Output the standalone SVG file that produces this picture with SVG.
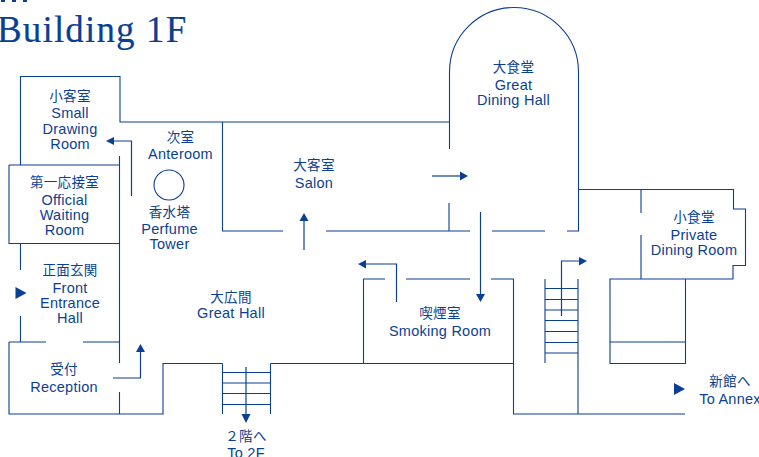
<svg xmlns="http://www.w3.org/2000/svg" width="759" height="457" viewBox="0 0 759 457">
<style>
text{font-family:"Liberation Sans","Noto Sans CJK JP",sans-serif;font-size:14.5px;letter-spacing:.25px;fill:#0b3f94;text-anchor:middle}
.jp{font-family:"Noto Sans CJK JP",sans-serif;font-size:13.5px;letter-spacing:.3px}
.title{font-family:"Liberation Serif",serif;font-size:37px;text-anchor:start;letter-spacing:1.15px;stroke:#0b3f94;stroke-width:.15}
.w{fill:none;stroke:#0b3f94;stroke-width:1.1}
.a{fill:none;stroke:#0b3f94;stroke-width:1.2}
.h{fill:#0b3f94}
</style>
<rect width="759" height="457" fill="#fff"/>
<path class="h" d="M1 0H5V2H1ZM12 0H16V2H12ZM23 0H27V2H23Z"/>
<text class="title" x="-3" y="42">Building 1F</text>
<g id="walls" class="w">
<path d="M20.500 165V76.500H120V122H449M222.500 122V231H283M326 231H470M492 231H545M567 231H578.500V72A64.500 64.500 0 0 0 449.500 72V149M449 203V231"/>
<path d="M9 165H119.500M9 165V243.500H119.500M119.500 156V363M119.500 392V414M20.500 243.500V270M20.500 316V342M9 342H46M83 342H119.500M9 342V414H163V363.500H222.500M270.500 363.500H513.500M222.500 363.500V414M270.500 363.500V414"/>
<path d="M222.500 372.500H270.500M222.500 383H270.500M222.500 393.500H270.500M222.500 404.500H270.500"/>
<path d="M363.500 363.500V279H385M406 279H470M491 279H513.500V414H685M545 279V363M578 279V414"/>
<path d="M545 288.500H578M545 299.500H578M545 310H578M545 320.500H578M545 331.500H578M545 342.500H578M545 353H578"/>
<path d="M578 189.500H733.500V209H745.500V265.500H733V279H610V363.500H685.500V279M641 189.500V213M641 235V279M610 342H685.500"/>
<circle cx="169" cy="185" r="15"/>
</g>
<g id="connectors">
<g class="a">
<path d="M131.500 196V141H113"/>
<path d="M113 378H140.500V351"/>
<path d="M246 367V416"/>
<path d="M304 250V220"/>
<path d="M432 176H461"/>
<path d="M480.500 212V295"/>
<path d="M396.500 302V264H366"/>
<path d="M561.500 316V261H579"/>
</g>
<path class="h" d="M106 141L114 137V145Z"/>
<path class="h" d="M140.500 344L145 352H136Z"/>
<path class="h" d="M246 423L241.500 414H250.500Z"/>
<path class="h" d="M304 213L308.500 221H299.500Z"/>
<path class="h" d="M468 176L460 171.500V180.500Z"/>
<path class="h" d="M480.500 302L476 294H485Z"/>
<path class="h" d="M358 264L366 260V268.500Z"/>
<path class="h" d="M587 261L579 257V265.500Z"/>
<path class="h" d="M15.500 287L26.500 293L15.500 299Z"/>
<path class="h" d="M674 383L685 389L674 395Z"/>
</g>
<g id="n-small-drawing"><text class="jp" x="70" y="101">小客室</text><text x="70" y="118">Small</text><text x="70" y="133.500">Drawing</text><text x="70" y="148.500">Room</text></g>
<g id="n-official"><text class="jp" x="64.500" y="187">第一応接室</text><text x="64.500" y="205">Official</text><text x="64.500" y="220">Waiting</text><text x="64.500" y="235">Room</text></g>
<g id="n-anteroom"><text class="jp" x="180.500" y="142">次室</text><text x="180.500" y="159">Anteroom</text></g>
<g id="n-perfume"><text class="jp" x="169.500" y="217">香水塔</text><text x="169.500" y="234">Perfume</text><text x="169.500" y="249">Tower</text></g>
<g id="n-front"><text class="jp" x="70" y="275">正面玄関</text><text x="70" y="293">Front</text><text x="70" y="308">Entrance</text><text x="70" y="323">Hall</text></g>
<g id="n-reception"><text class="jp" x="64" y="374">受付</text><text x="64" y="392">Reception</text></g>
<g id="n-great-hall"><text class="jp" x="231" y="302">大広間</text><text x="231" y="318">Great Hall</text></g>
<g id="n-to2f"><text class="jp" x="246" y="441">２階へ</text><text x="246" y="458">To 2F</text></g>
<g id="n-salon"><text class="jp" x="314" y="170">大客室</text><text x="314" y="187.500">Salon</text></g>
<g id="n-dining"><text class="jp" x="513.500" y="72">大食堂</text><text x="513.500" y="89.500">Great</text><text x="513.500" y="104.500">Dining Hall</text></g>
<g id="n-smoking"><text class="jp" x="440" y="318">喫煙室</text><text x="440" y="336">Smoking Room</text></g>
<g id="n-private"><text class="jp" x="694" y="222">小食堂</text><text x="694" y="239.500">Private</text><text x="694" y="254.500">Dining Room</text></g>
<g id="n-annex"><text class="jp" x="730" y="386">新館へ</text><text x="730" y="404">To Annex</text></g>
</svg>
